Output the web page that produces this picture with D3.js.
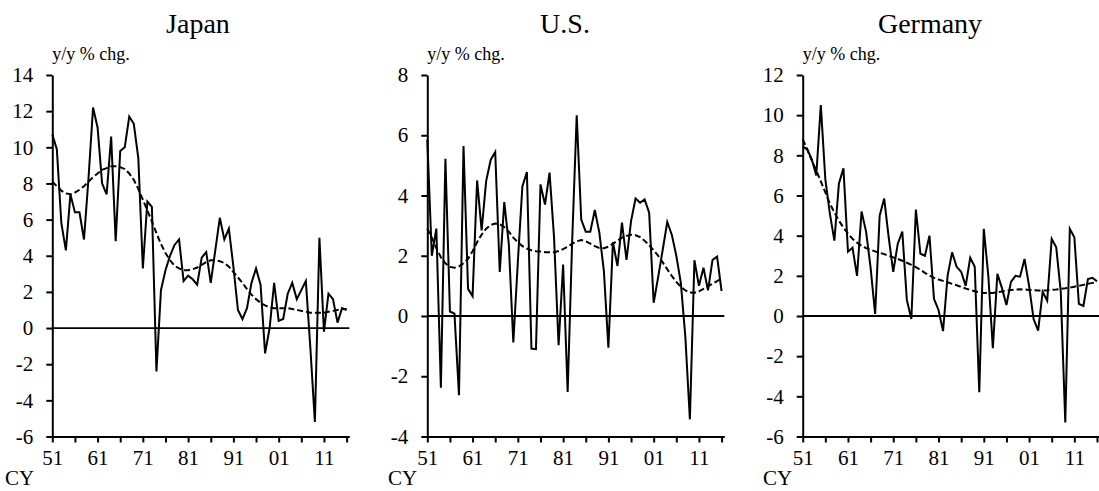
<!DOCTYPE html>
<html>
<head>
<meta charset="utf-8">
<script src="https://cdn.jsdelivr.net/npm/d3@7"></script>
<style>
  html, body { margin: 0; padding: 0; background: #fff; }
  svg { display: block; font-family: "Liberation Serif", "Times New Roman", serif; }
  svg text { font-family: "Liberation Serif", "Times New Roman", serif; fill: #000; }
</style>
</head>
<body>
<svg id="chart" width="1099" height="491"></svg>
<script>
// Calendar years 1951-2016
const years = d3.range(1951, 2017);

// Real GDP growth, y/y % change, and its smoothed trend
const japanGrowth = [10.7, 9.9, 5.8, 4.3, 7.4, 6.4, 6.4, 4.9, 8.3, 12.2,
  11.1, 8.0, 7.4, 10.6, 4.8, 9.8, 10.0, 11.7, 11.3, 9.4,
  3.3, 7.0, 6.7, -2.4, 2.1, 3.2, 4.0, 4.6, 4.9, 2.6,
  2.9, 2.7, 2.4, 3.9, 4.2, 2.5, 4.3, 6.1, 4.9, 5.5,
  3.4, 1.0, 0.5, 1.1, 2.5, 3.3, 2.4, -1.4, 0.0, 2.5,
  0.4, 0.5, 1.9, 2.5, 1.6, 2.1, 2.6, -1.1, -5.2, 5.0,
  -0.2, 1.9, 1.6, 0.3, 1.1, 1.0];
const japanTrend = [8.1, 7.85, 7.6, 7.45, 7.4, 7.5, 7.65, 7.85, 8.1, 8.35,
  8.55, 8.75, 8.85, 8.95, 8.95, 8.9, 8.8, 8.55, 8.2, 7.7,
  7.1, 6.5, 5.9, 5.25, 4.65, 4.15, 3.75, 3.45, 3.3, 3.2,
  3.2, 3.25, 3.35, 3.5, 3.65, 3.75, 3.75, 3.7, 3.6, 3.4,
  3.1, 2.8, 2.5, 2.15, 1.85, 1.6, 1.4, 1.25, 1.15, 1.1,
  1.1, 1.1, 1.1, 1.05, 1.0, 0.95, 0.9, 0.85, 0.85, 0.85,
  0.85, 0.9, 0.95, 1.0, 1.05, 1.05];

const usGrowth = [5.86, 2.0, 2.9, -2.38, 5.22, 0.15, 0.08, -2.63, 5.64, 0.9,
  0.66, 4.5, 2.84, 4.48, 5.18, 5.44, 1.46, 3.78, 2.4, -0.88,
  1.8, 4.3, 4.78, -1.08, -1.1, 4.37, 3.7, 4.76, 2.6, -0.97,
  1.71, -2.52, 2.5, 6.66, 3.2, 2.8, 2.8, 3.52, 2.77, 1.5,
  -1.05, 2.45, 1.66, 3.1, 1.86, 3.15, 3.9, 3.76, 3.87, 3.43,
  0.44, 1.3, 2.2, 3.12, 2.7, 2.0, 1.1, -0.7, -3.43, 1.85,
  1.0, 1.6, 0.85, 1.86, 1.97, 0.83];
const usTrend = [2.9, 2.6, 2.25, 1.95, 1.75, 1.63, 1.6, 1.65, 1.75, 1.9,
  2.15, 2.45, 2.7, 2.9, 3.02, 3.07, 3.05, 2.95, 2.8, 2.6,
  2.45, 2.32, 2.24, 2.18, 2.15, 2.14, 2.12, 2.12, 2.12, 2.16,
  2.22, 2.3, 2.4, 2.48, 2.52, 2.48, 2.4, 2.32, 2.26, 2.25,
  2.3, 2.4, 2.5, 2.6, 2.66, 2.7, 2.68, 2.62, 2.5, 2.35,
  2.18, 2.0, 1.78, 1.55, 1.33, 1.13, 0.97, 0.85, 0.78, 0.77,
  0.82, 0.9, 0.99, 1.07, 1.16, 1.24];

const germanyGrowth = [8.43, 8.3, 7.8, 7.0, 10.5, 6.8, 5.1, 3.75, 6.6, 7.35,
  3.2, 3.4, 2.0, 5.2, 4.2, 2.4, 0.1, 5.0, 5.85, 3.9,
  2.2, 3.6, 4.2, 0.8, -0.15, 5.3, 3.1, 3.0, 4.0, 0.85,
  0.3, -0.75, 2.0, 3.17, 2.45, 2.2, 1.5, 2.9, 2.45, -3.8,
  4.34, 2.0, -1.6, 2.1, 1.4, 0.55, 1.7, 2.0, 1.96, 2.84,
  1.5, -0.15, -0.73, 1.2, 0.76, 3.84, 3.42, 1.2, -5.3, 4.34,
  3.92, 0.6, 0.5, 1.84, 1.9, 1.73];
const germanyTrend = [8.8, 8.3, 7.75, 7.25, 6.7, 6.15, 5.6, 5.15, 4.75, 4.4,
  4.1, 3.85, 3.65, 3.5, 3.38, 3.3, 3.22, 3.15, 3.08, 3.0,
  2.92, 2.84, 2.75, 2.65, 2.55, 2.43, 2.3, 2.15, 2.02, 1.9,
  1.82, 1.75, 1.68, 1.6, 1.53, 1.45, 1.37, 1.3, 1.23, 1.18,
  1.15, 1.14, 1.15, 1.18, 1.22, 1.26, 1.3, 1.32, 1.33, 1.32,
  1.3, 1.28, 1.27, 1.27, 1.28, 1.3, 1.32, 1.35, 1.38, 1.42,
  1.46, 1.5, 1.55, 1.6, 1.65, 1.68];

// Panel titles and value ranges
const countries = ["Japan", "U.S.", "Germany"];
const yRanges = [[-6, 14], [-4, 8], [-6, 12]];
const xTickYears = d3.range(1951, 2017, 5);
const xLabelYears = d3.range(1951, 2017, 10);
const unitLabel = "y/y % chg.";
const yearLabel = "CY";

const panels = [
  { name: countries[0], growth: japanGrowth, trend: japanTrend, yr: yRanges[0] },
  { name: countries[1], growth: usGrowth, trend: usTrend, yr: yRanges[1] },
  { name: countries[2], growth: germanyGrowth, trend: germanyTrend, yr: yRanges[2] }
];

// Layout of each small multiple
const plotLeft = [52.3, 427.3, 802.7];
const titleX = [198, 565, 930];
const cyX = [5, 388, 763];
const plotTop = 75, plotBottom = 436.5, plotWidth = 297;
const serif = '"Liberation Serif", "Times New Roman", serif';

const svg = d3.select("#chart");

function styleAxis(sel) {
  sel.attr("font-family", null).attr("font-size", null);
  sel.select(".domain").attr("stroke", "#000").attr("stroke-width", 2);
  sel.selectAll(".tick line").attr("stroke", "#000").attr("stroke-width", 2);
  sel.selectAll(".tick text")
    .style("font-family", serif)
    .style("font-size", "21px")
    .attr("fill", "#000");
}

panels.forEach((p, k) => {
  const g = svg.append("g").attr("transform", `translate(${plotLeft[k]},0)`);

  const x = d3.scaleLinear().domain([1951, 2016.6]).range([0, plotWidth]);
  const y = d3.scaleLinear().domain(p.yr).range([plotBottom, plotTop]);

  // Title
  svg.append("text")
    .attr("x", titleX[k]).attr("y", 33)
    .attr("text-anchor", "middle")
    .style("font-size", "28px")
    .text(p.name);

  // Unit label
  g.append("text")
    .attr("x", 0).attr("y", 60)
    .style("font-size", "18px")
    .text(unitLabel);

  // Y axis
  const yAxis = d3.axisLeft(y)
    .tickValues(d3.range(p.yr[0], p.yr[1] + 1, 2))
    .tickSize(6).tickSizeOuter(0).tickPadding(13)
    .tickFormat(d => String(d));
  g.append("g").call(yAxis).call(styleAxis);

  // X axis along the bottom
  const xAxis = d3.axisBottom(x)
    .tickValues(xTickYears)
    .tickSize(6).tickSizeOuter(0).tickPadding(8)
    .tickFormat(d => xLabelYears.includes(d) ? String(d % 100).padStart(2, "0") : "");
  g.append("g").attr("transform", `translate(0,${plotBottom})`).call(xAxis).call(styleAxis);

  // Zero line
  g.append("line")
    .attr("x1", x(1951)).attr("x2", x.range()[1])
    .attr("y1", y(0)).attr("y2", y(0))
    .attr("stroke", "#000").attr("stroke-width", 1.8);

  // Year label
  svg.append("text")
    .attr("x", cyX[k]).attr("y", 485)
    .style("font-size", "21px")
    .text(yearLabel);

  const line = d3.line().x((d, i) => x(years[i])).y(d => y(d));

  // Trend (dashed)
  g.append("path")
    .datum(p.trend)
    .attr("d", line)
    .attr("fill", "none").attr("stroke", "#000")
    .attr("stroke-width", 2).attr("stroke-dasharray", "6,3");

  // Annual growth (solid)
  g.append("path")
    .datum(p.growth)
    .attr("d", line)
    .attr("fill", "none").attr("stroke", "#000")
    .attr("stroke-width", 2).attr("stroke-linejoin", "miter");
});
</script>
</body>
</html>
